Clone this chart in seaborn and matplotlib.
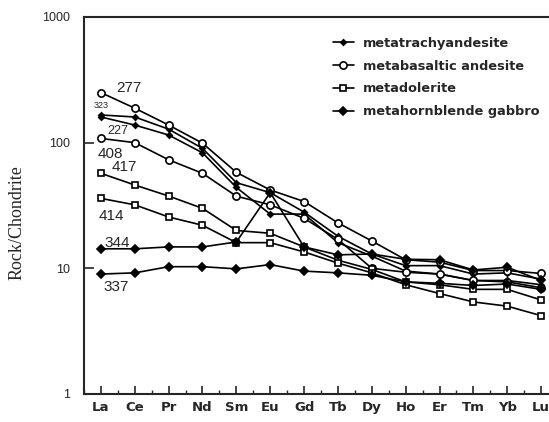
import numpy as np
import pandas as pd
import matplotlib
matplotlib.use('Agg')
import matplotlib.pyplot as plt
import seaborn as sns

sns.set_style('ticks')
plt.rcParams['font.family'] = ['Liberation Sans', 'DejaVu Sans']

# REE elements on the x axis
elements = ['La', 'Ce', 'Pr', 'Nd', 'Sm', 'Eu', 'Gd', 'Tb', 'Dy', 'Ho', 'Er', 'Tm', 'Yb', 'Lu']

# chondrite-normalised values
s277 = [250, 188, 138, 99, 58, 42, 34, 23, 16.5, 11.7, 11.2, 9.6, 9.6, 9.1]
s323 = [166, 160, 128, 90, 48, 40, 28, 18, 13, 10.5, 10.5, 9.0, 9.2, 8.2]
s227 = [160, 138, 115, 83, 44, 27, 27, 16, 12.5, 9.5, 9.0, 8.0, 8.0, 7.4]
s408 = [108, 100, 73, 57, 37.5, 32, 25, 17, 10, 9.3, 9.0, 8.0, 7.8, 7.0]
s417 = [57, 46, 37.6, 30, 20, 19, 14.8, 11.6, 9.8, 7.8, 7.4, 6.8, 6.8, 5.6]
s414 = [36, 32, 25.6, 22, 16, 16, 13.5, 11, 9.2, 7.4, 6.3, 5.4, 5.0, 4.2]
s344 = [14.3, 14.3, 14.8, 14.8, 16.2, 40, 14.8, 12.8, 13, 11.8, 11.7, 9.7, 10.2, 8.0]
s337 = [9.0, 9.2, 10.3, 10.3, 9.9, 10.7, 9.5, 9.2, 8.8, 7.8, 7.6, 7.3, 7.5, 6.8]

samples = ['323', '227', '277', '408', '417', '414', '344', '337']
rocks = ['metatrachyandesite', 'metatrachyandesite',
         'metabasaltic andesite', 'metabasaltic andesite',
         'metadolerite', 'metadolerite',
         'metahornblende gabbro', 'metahornblende gabbro']
values = [s323, s227, s277, s408, s417, s414, s344, s337]

rows = []
for smp, rock, vals in zip(samples, rocks, values):
    for i, v in enumerate(vals):
        rows.append({'sample': smp, 'rock': rock, 'pos': i, 'value': v})
data = pd.DataFrame(rows)

styles = {
    'metatrachyandesite': dict(marker='D', markersize=2.8, markerfacecolor='black'),
    'metabasaltic andesite': dict(marker='o', markersize=5.2, markerfacecolor='white'),
    'metadolerite': dict(marker='s', markersize=5, markerfacecolor='white'),
    'metahornblende gabbro': dict(marker='D', markersize=4.2, markerfacecolor='black'),
}

fig = plt.figure(figsize=(5.49, 4.22), dpi=100)
ax = fig.add_axes([0.153, 0.0664, 0.8634, 0.8934])

handles = {}
for smp in samples:
    sub = data[data['sample'] == smp]
    rock = sub['rock'].iloc[0]
    sns.lineplot(x='pos', y='value', data=sub, ax=ax, color='black', linewidth=1.2,
                 markeredgecolor='black', markeredgewidth=1.2, **styles[rock])
    handles.setdefault(rock, ax.lines[-1])

ax.set_yscale('log')
ax.set_ylim(1, 1000)
ax.set_xlim(-0.47, 13.47)
ax.set_yticks([1, 10, 100, 1000])
ax.set_yticklabels(['1', '10', '100', '1000'], fontsize=9)
ax.yaxis.set_minor_locator(matplotlib.ticker.NullLocator())
ax.set_xticks(range(len(elements)))
ax.set_xticklabels(elements, fontsize=9.5, fontweight='bold', family='DejaVu Sans')
ax.set_xticks(np.arange(-0.5, len(elements), 1), minor=True)
ax.tick_params(axis='x', which='major', direction='in', length=6, width=1.2, pad=5)
ax.tick_params(axis='x', which='minor', direction='in', length=3, width=1.0)
ax.tick_params(axis='y', which='major', direction='in', length=7, width=1.2, pad=10)
ax.set_xlabel('')
ax.set_ylabel('')
for sp in ax.spines.values():
    sp.set_linewidth(1.5)

fig.text(0.031, 1 - 223 / 422, 'Rock/Chondrite', rotation=90, family='Liberation Serif',
         fontsize=13, ha='center', va='center')

# sample numbers next to the La points
ax.text(0.82, 272, '277', fontsize=11, ha='center', va='center')
ax.text(0.0, 199, '323', fontsize=6.5, ha='center', va='center')
ax.text(0.5, 123, '227', fontsize=9, ha='center', va='center')
ax.text(0.29, 81, '408', fontsize=11, ha='center', va='center')
ax.text(0.68, 64, '417', fontsize=11, ha='center', va='center')
ax.text(0.32, 26, '414', fontsize=11, ha='center', va='center')
ax.text(0.47, 15.9, '344', fontsize=11, ha='center', va='center')
ax.text(0.44, 7.1, '337', fontsize=11, ha='center', va='center')

order = ['metatrachyandesite', 'metabasaltic andesite', 'metadolerite', 'metahornblende gabbro']
ax.legend([handles[r] for r in order], order, loc='upper left',
          bbox_to_anchor=(333 / 549, 1 - 37 / 422), bbox_transform=fig.transFigure,
          frameon=False, prop={'family': 'DejaVu Sans', 'weight': 'bold', 'size': 9.3},
          handlelength=1.6, handletextpad=0.7, labelspacing=0.75, borderpad=0, borderaxespad=0)

fig.savefig('out.png', dpi=100)
